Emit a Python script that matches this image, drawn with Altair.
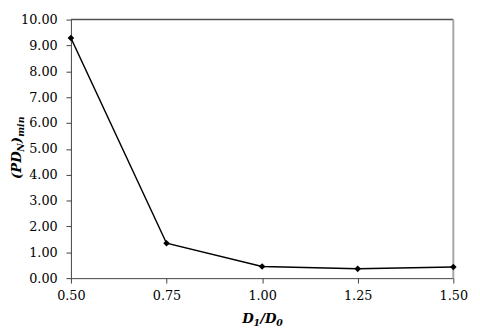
import altair as alt
import pandas as pd

ratio = [0.50, 0.75, 1.00, 1.25, 1.50]
pdn_min = [9.29, 1.35, 0.45, 0.36, 0.43]
x_ticks = [0.50, 0.75, 1.00, 1.25, 1.50]
y_ticks = [0, 1, 2, 3, 4, 5, 6, 7, 8, 9, 10]

W, H = 389, 263
FONT = "DejaVu Serif"

df = pd.DataFrame({"ratio": ratio, "pdn": pdn_min})

x = alt.X("ratio:Q", scale=alt.Scale(domain=[0.5, 1.5], nice=False, zero=False),
          axis=alt.Axis(values=x_ticks, format=".2f", title=None, grid=False,
                        labelFontSize=13, labelFont=FONT, labelColor="black",
                        labelPadding=7, tickSize=5, tickColor="#404040",
                        domainColor="#404040", labelFlush=False))
y = alt.Y("pdn:Q", scale=alt.Scale(domain=[0, 10], nice=False),
          axis=alt.Axis(values=y_ticks, format=".2f", title=None, grid=False,
                        labelFontSize=13, labelFont=FONT, labelColor="black",
                        labelPadding=9, tickSize=5, tickColor="#404040",
                        domainColor="#404040"))

base = alt.Chart(df)
line = base.mark_line(color="black", strokeWidth=1.5).encode(x=x, y=y)
pts = base.mark_point(shape="diamond", filled=True, color="black", size=45, opacity=1).encode(x=x, y=y)

one = pd.DataFrame({"a": [0]})
top_rule = alt.Chart(one).mark_rule(color="#505050", strokeWidth=1.5).encode(
    x=alt.value(0), x2=alt.value(W), y=alt.value(0))
right_rule = alt.Chart(one).mark_rule(color="#a6a6a6", strokeWidth=2).encode(
    x=alt.value(W), y=alt.value(0), y2=alt.value(H))


def txt(s, px, py, size, angle=0):
    return alt.Chart(one).mark_text(
        text=s, font=FONT, fontSize=size, fontWeight="bold", fontStyle="italic",
        align="left", baseline="alphabetic", angle=angle, color="black"
    ).encode(x=alt.value(px), y=alt.value(py))


MAIN, SUB = 13.5, 9.5
# x title: D1/D0
xt = [
    txt("D", 174.3, 309, MAIN),
    txt("1", 185.8, 312, SUB),
    txt("/D", 192.6, 309, MAIN),
    txt("0", 209.0, 312, SUB),
]
# y title: (PD_N)_min, rotated
yt = [
    txt("(PD", -51, 162.2, MAIN, 270),
    txt("N", -48, 134.4, SUB, 270),
    txt(")", -51, 125.8, MAIN, 270),
    txt("min", -48, 119.2, SUB, 270),
]

chart = alt.layer(top_rule, right_rule, line, pts, *xt, *yt).properties(
    width=W, height=H,
    autosize=alt.AutoSizeParams(type="none"),
    padding={"left": 64, "top": 9, "right": 19, "bottom": 53},
).configure_view(stroke=None)

chart.save("out.html", embed_options={"renderer": "svg", "actions": False})
